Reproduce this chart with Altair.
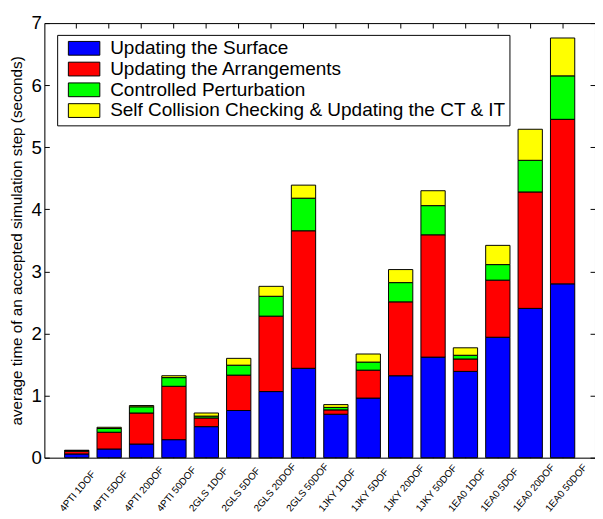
import altair as alt
import pandas as pd

FONT = "Liberation Sans"

cases = ["4PTI 1DOF", "4PTI 5DOF", "4PTI 20DOF", "4PTI 50DOF",
         "2GLS 1DOF", "2GLS 5DOF", "2GLS 20DOF", "2GLS 50DOF",
         "1JKY 1DOF", "1JKY 5DOF", "1JKY 20DOF", "1JKY 50DOF",
         "1EA0 1DOF", "1EA0 5DOF", "1EA0 20DOF", "1EA0 50DOF"]

parts = ["Updating the Surface", "Updating the Arrangements",
         "Controlled Perturbation", "Self Collision Checking & Updating the CT & IT"]
colors = ["#0000ff", "#ff0000", "#00ff00", "#ffff00"]

surface = [0.06, 0.14, 0.22, 0.29, 0.50, 0.76, 1.065, 1.44,
           0.70, 0.96, 1.32, 1.62, 1.39, 1.94, 2.405, 2.80]
arrangements = [0.045, 0.27, 0.50, 0.86, 0.14, 0.57, 1.215, 2.215,
                0.07, 0.45, 1.19, 1.97, 0.20, 0.92, 1.875, 2.65]
perturbation = [0.01, 0.06, 0.10, 0.14, 0.03, 0.16, 0.32, 0.525,
                0.04, 0.13, 0.31, 0.47, 0.06, 0.25, 0.51, 0.70]
collision = [0.005, 0.02, 0.02, 0.03, 0.05, 0.11, 0.16, 0.21,
             0.045, 0.13, 0.21, 0.24, 0.12, 0.31, 0.50, 0.61]

y_ticks = [0, 1, 2, 3, 4, 5, 6, 7]

rows = []
for k, series in enumerate([surface, arrangements, perturbation, collision]):
    for c, v in zip(cases, series):
        rows.append({"case": c, "part": parts[k], "idx": k, "time": v})
df = pd.DataFrame(rows)

W, H = 560, 442

xscale = alt.Scale(domain=cases, paddingInner=0.25, paddingOuter=0.625)
yscale = alt.Scale(domain=[0, 7], nice=False, zero=True)

bars = alt.Chart(df).mark_bar(stroke="black", strokeWidth=1).encode(
    x=alt.X("case:N", sort=cases, scale=xscale,
            axis=alt.Axis(orient="bottom", title=None, ticks=False, grid=False,
                          domain=True, domainColor="black", domainWidth=1,
                          labelAngle=-50, labelAlign="left", labelBaseline="alphabetic",
                          labelPadding=55, labelOffset=-13,
                          labelFont=FONT, labelFontSize=10, labelColor="black",
                          labelOverlap=False, labelLimit=300)),
    y=alt.Y("time:Q", stack="zero", scale=yscale,
            axis=alt.Axis(orient="left", values=y_ticks, ticks=False, grid=False,
                          domain=True, domainColor="black", domainWidth=1,
                          labelPadding=3, labelFont=FONT, labelFontSize=19,
                          labelColor="black", labelBaseline="middle",
                          title="average time of an accepted simulation step (seconds)",
                          titleFont=FONT, titleFontSize=15.5, titleFontWeight="normal",
                          titleColor="black", titleAngle=270, titleBaseline="middle",
                          titleAlign="center", titleX=-28, titleY=H / 2)),
    color=alt.Color("part:N", scale=alt.Scale(domain=parts, range=colors),
                    legend=alt.Legend(title=None, orient="none", legendX=13, legendY=12,
                                      direction="vertical", padding=4,
                                      strokeColor="black", fillColor="white",
                                      symbolType="M-2.2857,-1H2.2857V1H-2.2857Z",
                                      symbolSize=196, symbolStrokeColor="black",
                                      symbolStrokeWidth=1, symbolOpacity=1,
                                      symbolOffset=13.75, labelOffset=16.85,
                                      labelFont=FONT, labelFontSize=19.3,
                                      labelColor="black", rowPadding=1.1, labelLimit=600)),
    order=alt.Order("idx:Q", sort="ascending"),
)

tick_style = dict(ticks=True, tickSize=5, tickColor="black", tickWidth=1,
                  labels=False, title=None, grid=False)

# inward ticks at bottom and left edges
ticks_a = alt.Chart(df).mark_bar(opacity=0).encode(
    x=alt.X("case:N", sort=cases, scale=xscale,
            axis=alt.Axis(orient="top", offset=-H, domain=False, **tick_style)),
    y=alt.Y("time:Q", stack="zero", scale=yscale,
            axis=alt.Axis(orient="right", offset=-W, values=y_ticks, domain=False, **tick_style)),
)

# top and right border with inward ticks
ticks_b = alt.Chart(df).mark_bar(opacity=0).encode(
    x=alt.X("case:N", sort=cases, scale=xscale,
            axis=alt.Axis(orient="bottom", offset=-H, domain=True, domainColor="black",
                          domainWidth=1, **tick_style)),
    y=alt.Y("time:Q", stack="zero", scale=yscale,
            axis=alt.Axis(orient="left", offset=-W, values=y_ticks, domain=True,
                          domainColor="black", domainWidth=1, **tick_style)),
)

chart = alt.layer(bars, ticks_a, ticks_b).resolve_axis(
    x="independent", y="independent"
).properties(
    width=W, height=H,
    autosize=alt.AutoSizeParams(type="none"),
    padding={"left": 37, "top": 11, "right": 0, "bottom": 58},
    background="white",
).configure_view(strokeWidth=0).configure(font=FONT)

chart.save("out.html", embed_options={"renderer": "svg", "actions": False})
